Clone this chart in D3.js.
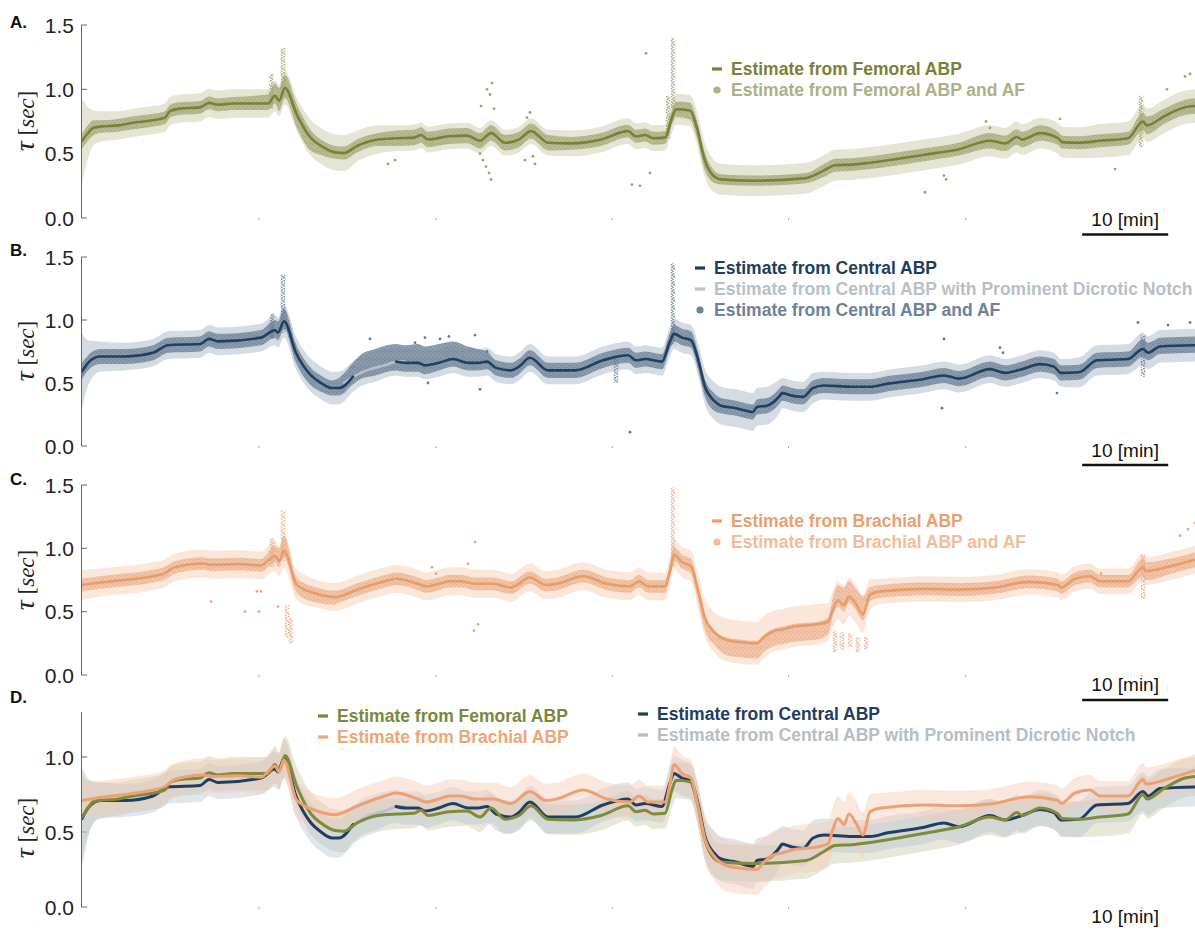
<!DOCTYPE html>
<html>
<head>
<meta charset="utf-8">
<script src="https://cdn.jsdelivr.net/npm/d3@7"></script>
<style>
  body { margin: 0; background: #fff; }
  svg { display: block; font-family: "Liberation Sans", Arial, sans-serif; }
</style>
</head>
<body>
<svg id="chart" width="1195" height="931"></svg>
<script>
// ---------------- data (time in minutes, tau in seconds) ----------------
const timeSpan = 129.42;
const xTicks = [20.5, 41.1, 61.6, 82.1, 102.7, 123.2];
const scaleBarStart = 116.3;          // the 10-minute bar
const yTicksABC = [0, 0.5, 1.0, 1.5];
const yTicksD = [0, 0.5, 1.0];

// Femoral ABP estimate
const femT = [0, 0.7, 1.28, 2.09, 4.19, 5.93, 8.26, 9.65, 10.23, 11.4,
  13.72, 14.77, 15.81, 17.56, 21.63, 22.44, 22.91, 23.6, 25.0, 26.63,
  27.79, 29.42, 30.47, 31.98, 34.42, 36.63, 38.6, 39.42, 40.23, 42.67,
  44.77, 46.28, 47.56, 49.19, 50.81, 52.21, 54.19, 56.98, 60.35, 63.49,
  64.42, 65.47, 66.4, 67.79, 68.6, 69.07, 70.7, 71.51, 72.33, 73.14,
  74.3, 78.02, 84.19, 86.28, 87.56, 89.53, 91.63, 97.79, 101.98, 105.58,
  107.33, 108.72, 109.3, 111.4, 113.49, 113.95, 115.93, 118.37, 121.63, 123.37,
  123.84, 125.81, 128.26, 129.42];
const femMean = [0.60, 0.66, 0.70, 0.71, 0.72, 0.74, 0.76, 0.78, 0.83, 0.85,
  0.86, 0.895, 0.88, 0.89, 0.89, 0.95, 0.91, 1.01, 0.80, 0.62,
  0.56, 0.51, 0.505, 0.56, 0.61, 0.62, 0.625, 0.645, 0.61, 0.635,
  0.64, 0.60, 0.66, 0.585, 0.61, 0.675, 0.585, 0.58, 0.61, 0.675,
  0.635, 0.645, 0.62, 0.625, 0.78, 0.845, 0.835, 0.70, 0.47, 0.35,
  0.30, 0.29, 0.31, 0.37, 0.41, 0.415, 0.43, 0.49, 0.535, 0.60,
  0.58, 0.63, 0.61, 0.66, 0.62, 0.59, 0.585, 0.60, 0.62, 0.75,
  0.72, 0.79, 0.86, 0.87];
const femCI = [0.33, 0.2, 0.14, 0.12, 0.11, 0.11, 0.11, 0.11, 0.11, 0.11,
  0.11, 0.11, 0.11, 0.11, 0.11, 0.12, 0.12, 0.13, 0.13, 0.14,
  0.14, 0.14, 0.14, 0.12, 0.11, 0.1, 0.1, 0.1, 0.1, 0.1,
  0.1, 0.1, 0.1, 0.1, 0.1, 0.1, 0.1, 0.1, 0.1, 0.1,
  0.1, 0.1, 0.1, 0.1, 0.12, 0.12, 0.12, 0.13, 0.13, 0.13,
  0.12, 0.12, 0.12, 0.12, 0.12, 0.12, 0.12, 0.12, 0.12, 0.12,
  0.12, 0.12, 0.12, 0.12, 0.12, 0.12, 0.12, 0.13, 0.13, 0.13,
  0.13, 0.13, 0.13, 0.13];
const femAfUp = [0.06, 0.06, 0.06, 0.05, 0.05, 0.05, 0.05, 0.05, 0.05, 0.05,
  0.05, 0.05, 0.05, 0.05, 0.07, 0.1, 0.1, 0.1, 0.08, 0.06,
  0.05, 0.05, 0.05, 0.05, 0.05, 0.06, 0.06, 0.06, 0.06, 0.06,
  0.06, 0.06, 0.06, 0.06, 0.06, 0.06, 0.06, 0.05, 0.05, 0.05,
  0.05, 0.05, 0.05, 0.05, 0.06, 0.06, 0.06, 0.06, 0.06, 0.05,
  0.04, 0.04, 0.04, 0.05, 0.05, 0.05, 0.05, 0.05, 0.05, 0.06,
  0.06, 0.06, 0.06, 0.06, 0.05, 0.05, 0.05, 0.05, 0.05, 0.07,
  0.07, 0.06, 0.06, 0.06];
const femAfDown = [0.06, 0.06, 0.06, 0.05, 0.05, 0.05, 0.05, 0.05, 0.05, 0.05,
  0.05, 0.05, 0.05, 0.05, 0.05, 0.06, 0.08, 0.08, 0.1, 0.1,
  0.07, 0.05, 0.05, 0.05, 0.05, 0.06, 0.06, 0.06, 0.06, 0.06,
  0.06, 0.06, 0.06, 0.06, 0.06, 0.06, 0.06, 0.05, 0.05, 0.05,
  0.05, 0.05, 0.05, 0.05, 0.06, 0.06, 0.07, 0.08, 0.08, 0.06,
  0.04, 0.04, 0.04, 0.05, 0.05, 0.05, 0.05, 0.05, 0.05, 0.06,
  0.06, 0.06, 0.06, 0.06, 0.05, 0.05, 0.05, 0.05, 0.05, 0.07,
  0.07, 0.06, 0.06, 0.06];
const femDots = [[47.09, 1.0], [47.44, 0.96], [47.67, 1.05], [46.4, 0.87], [47.91, 0.85],
  [46.98, 0.40], [47.33, 0.35], [46.63, 0.45], [47.56, 0.30], [46.28, 0.50],
  [52.09, 0.82], [51.74, 0.78], [52.44, 0.48], [51.51, 0.45], [52.67, 0.42],
  [65.58, 1.28], [64.88, 0.25], [63.95, 0.26], [66.05, 0.35], [36.4, 0.45], [35.58, 0.42],
  [113.72, 0.77], [120.12, 0.38], [105.12, 0.75], [105.58, 0.70], [126.16, 1.0],
  [128.26, 1.1], [128.84, 1.12], [98.02, 0.20], [100.47, 0.30], [100.23, 0.33]];
const femSpikes = [[21.98, 0.85, 1.12], [23.37, 0.95, 1.32], [68.72, 0.85, 1.40],
  [68.14, 0.62, 0.95], [123.14, 0.55, 0.95]];

// Central ABP estimate
const cenT = [0, 0.7, 2.09, 5.0, 8.26, 10.0, 13.72, 14.77, 15.81, 20.81,
  22.44, 22.79, 23.49, 24.88, 26.63, 27.79, 29.07, 29.88, 31.51, 32.33,
  34.07, 36.51, 37.56, 39.07, 39.88, 41.51, 43.14, 44.88, 46.05, 47.09,
  48.14, 49.88, 50.81, 52.09, 54.19, 57.33, 60.58, 63.49, 64.42, 65.47,
  67.44, 68.37, 68.84, 69.77, 70.81, 71.63, 72.44, 73.49, 74.3, 76.05,
  77.21, 78.02, 78.49, 79.65, 81.16, 81.4, 82.56, 83.84, 85.0, 86.28,
  89.53, 91.63, 93.72, 97.79, 100.23, 101.98, 105.58, 107.33, 109.3, 111.4,
  113.02, 113.84, 115.93, 118.02, 121.63, 123.37, 123.95, 125.35, 129.42];
const cenMean = [0.59, 0.66, 0.71, 0.71, 0.74, 0.80, 0.81, 0.85, 0.83, 0.86,
  0.92, 0.90, 0.99, 0.74, 0.56, 0.50, 0.46, 0.46, 0.55, 0.59,
  0.63, 0.67, 0.66, 0.66, 0.64, 0.66, 0.69, 0.66, 0.66, 0.67,
  0.62, 0.60, 0.63, 0.70, 0.60, 0.60, 0.68, 0.72, 0.68, 0.69,
  0.67, 0.83, 0.89, 0.86, 0.84, 0.69, 0.47, 0.36, 0.32, 0.30,
  0.28, 0.27, 0.31, 0.32, 0.40, 0.42, 0.40, 0.39, 0.46, 0.48,
  0.47, 0.47, 0.495, 0.53, 0.56, 0.535, 0.61, 0.58, 0.61, 0.65,
  0.63, 0.58, 0.585, 0.68, 0.69, 0.77, 0.74, 0.79, 0.80];
const cenCI = [0.3, 0.18, 0.12, 0.11, 0.11, 0.11, 0.11, 0.11, 0.11, 0.11,
  0.12, 0.12, 0.13, 0.13, 0.13, 0.13, 0.13, 0.13, 0.12, 0.12,
  0.12, 0.11, 0.11, 0.11, 0.11, 0.11, 0.11, 0.11, 0.11, 0.11,
  0.11, 0.11, 0.11, 0.11, 0.11, 0.11, 0.11, 0.11, 0.11, 0.11,
  0.11, 0.12, 0.12, 0.12, 0.12, 0.13, 0.14, 0.15, 0.15, 0.15,
  0.15, 0.15, 0.15, 0.15, 0.13, 0.12, 0.12, 0.12, 0.12, 0.11,
  0.11, 0.11, 0.11, 0.11, 0.11, 0.11, 0.11, 0.11, 0.11, 0.11,
  0.11, 0.11, 0.12, 0.12, 0.12, 0.13, 0.13, 0.13, 0.13];
const cenAfUp = [0.07, 0.06, 0.06, 0.06, 0.06, 0.06, 0.06, 0.06, 0.06, 0.06,
  0.08, 0.09, 0.1, 0.07, 0.06, 0.06, 0.06, 0.08, 0.11, 0.13,
  0.14, 0.14, 0.14, 0.15, 0.15, 0.15, 0.14, 0.13, 0.11, 0.08,
  0.06, 0.06, 0.06, 0.06, 0.06, 0.06, 0.06, 0.06, 0.06, 0.06,
  0.06, 0.07, 0.07, 0.07, 0.07, 0.06, 0.06, 0.06, 0.06, 0.06,
  0.06, 0.06, 0.06, 0.06, 0.06, 0.06, 0.06, 0.06, 0.06, 0.06,
  0.06, 0.06, 0.06, 0.06, 0.06, 0.06, 0.06, 0.06, 0.06, 0.06,
  0.06, 0.06, 0.06, 0.06, 0.06, 0.08, 0.08, 0.07, 0.07];
const cenAfDown = [0.06, 0.06, 0.06, 0.06, 0.06, 0.06, 0.06, 0.06, 0.06, 0.06,
  0.06, 0.06, 0.06, 0.08, 0.08, 0.07, 0.06, 0.06, 0.06, 0.06,
  0.07, 0.07, 0.07, 0.07, 0.07, 0.06, 0.06, 0.06, 0.06, 0.06,
  0.06, 0.06, 0.06, 0.06, 0.06, 0.06, 0.06, 0.06, 0.06, 0.06,
  0.06, 0.06, 0.06, 0.06, 0.06, 0.08, 0.08, 0.08, 0.06, 0.06,
  0.06, 0.06, 0.06, 0.06, 0.06, 0.06, 0.06, 0.06, 0.06, 0.06,
  0.06, 0.06, 0.06, 0.06, 0.06, 0.06, 0.06, 0.06, 0.06, 0.06,
  0.06, 0.06, 0.06, 0.06, 0.06, 0.06, 0.06, 0.06, 0.06];
const cenGap = [31.6, 36.4];   // span where only the notch-based estimate exists
const cenDots = [[33.49, 0.85], [38.72, 0.82], [39.88, 0.86], [41.63, 0.85], [42.67, 0.87],
  [45.7, 0.88], [47.09, 0.75], [46.28, 0.45], [40.23, 0.50], [63.72, 0.11],
  [100.23, 0.85], [100.0, 0.30], [122.79, 0.98], [126.28, 0.96], [128.84, 0.98],
  [106.74, 0.78], [107.09, 0.74], [113.37, 0.42]];
const cenSpikes = [[22.09, 0.85, 1.05], [23.37, 0.90, 1.36], [68.72, 0.80, 1.45],
  [123.37, 0.55, 0.88], [62.09, 0.50, 0.72]];

// Central ABP with prominent dicrotic notch
const notchT = [30.47, 31.86, 33.49, 35.23, 36.63, 37.56];
const notchMean = [0.50, 0.56, 0.61, 0.64, 0.67, 0.67];

// Brachial ABP estimate
const braT = [0, 2.09, 4.19, 8.26, 9.53, 10.81, 14.07, 15.0, 18.37, 20.81,
  22.44, 22.91, 23.49, 24.88, 25.7, 27.09, 29.42, 29.88, 31.86, 35.23,
  36.51, 39.07, 40.0, 41.51, 42.67, 44.07, 45.7, 47.79, 49.88, 52.09,
  53.95, 55.23, 58.26, 61.05, 63.72, 64.77, 65.81, 67.79, 68.37, 68.84,
  69.77, 70.81, 71.63, 72.44, 73.49, 74.77, 76.4, 78.49, 79.3, 80.58,
  81.4, 82.56, 83.84, 85.47, 86.74, 87.33, 87.91, 88.6, 89.19, 90.0,
  90.81, 91.63, 92.91, 97.79, 101.98, 106.05, 110.12, 113.49, 113.84, 115.47,
  117.21, 118.37, 121.63, 123.37, 123.72, 126.63, 129.42];
const braMean = [0.71, 0.73, 0.745, 0.78, 0.80, 0.85, 0.88, 0.87, 0.875, 0.865,
  0.94, 0.90, 0.98, 0.72, 0.68, 0.645, 0.615, 0.62, 0.67, 0.74,
  0.76, 0.72, 0.70, 0.72, 0.74, 0.74, 0.72, 0.72, 0.69, 0.77,
  0.71, 0.72, 0.78, 0.72, 0.70, 0.74, 0.70, 0.70, 0.82, 0.95,
  0.89, 0.86, 0.67, 0.45, 0.34, 0.28, 0.26, 0.25, 0.30, 0.35,
  0.36, 0.38, 0.39, 0.40, 0.42, 0.52, 0.59, 0.55, 0.62, 0.56,
  0.48, 0.635, 0.66, 0.68, 0.675, 0.69, 0.735, 0.71, 0.69, 0.76,
  0.78, 0.74, 0.74, 0.85, 0.82, 0.86, 0.91];
const braCI = [0.12, 0.11, 0.11, 0.11, 0.11, 0.11, 0.11, 0.11, 0.11, 0.11,
  0.12, 0.12, 0.13, 0.12, 0.12, 0.11, 0.11, 0.11, 0.11, 0.11,
  0.11, 0.11, 0.11, 0.11, 0.11, 0.11, 0.11, 0.11, 0.11, 0.11,
  0.11, 0.11, 0.11, 0.11, 0.11, 0.11, 0.11, 0.11, 0.12, 0.12,
  0.12, 0.12, 0.14, 0.15, 0.16, 0.17, 0.17, 0.17, 0.17, 0.16,
  0.16, 0.16, 0.16, 0.16, 0.15, 0.15, 0.15, 0.15, 0.15, 0.15,
  0.15, 0.12, 0.1, 0.1, 0.1, 0.1, 0.1, 0.1, 0.1, 0.1,
  0.1, 0.1, 0.1, 0.11, 0.11, 0.11, 0.11];
const braAfUp = [0.05, 0.05, 0.05, 0.05, 0.05, 0.05, 0.05, 0.05, 0.05, 0.05,
  0.08, 0.1, 0.12, 0.06, 0.05, 0.05, 0.05, 0.05, 0.05, 0.05,
  0.05, 0.05, 0.05, 0.05, 0.05, 0.05, 0.05, 0.05, 0.05, 0.05,
  0.05, 0.05, 0.05, 0.05, 0.05, 0.05, 0.05, 0.05, 0.06, 0.06,
  0.06, 0.06, 0.05, 0.03, 0.02, 0.02, 0.02, 0.02, 0.02, 0.02,
  0.02, 0.02, 0.02, 0.02, 0.03, 0.1, 0.12, 0.14, 0.12, 0.12,
  0.14, 0.06, 0.05, 0.05, 0.05, 0.05, 0.05, 0.05, 0.05, 0.05,
  0.05, 0.05, 0.05, 0.07, 0.07, 0.06, 0.06];
const braAfDown = [0.05, 0.05, 0.05, 0.05, 0.05, 0.05, 0.05, 0.05, 0.05, 0.05,
  0.05, 0.05, 0.05, 0.06, 0.07, 0.07, 0.06, 0.05, 0.05, 0.05,
  0.05, 0.05, 0.05, 0.05, 0.05, 0.05, 0.05, 0.05, 0.05, 0.05,
  0.05, 0.05, 0.05, 0.05, 0.05, 0.05, 0.05, 0.05, 0.05, 0.05,
  0.05, 0.06, 0.08, 0.1, 0.1, 0.12, 0.12, 0.12, 0.12, 0.12,
  0.12, 0.12, 0.12, 0.12, 0.1, 0.05, 0.05, 0.05, 0.05, 0.05,
  0.05, 0.05, 0.05, 0.05, 0.05, 0.05, 0.05, 0.05, 0.05, 0.05,
  0.05, 0.05, 0.05, 0.07, 0.07, 0.06, 0.06];
const braDots = [[15.0, 0.58], [18.95, 0.50], [20.35, 0.66], [20.81, 0.66], [20.58, 0.50],
  [22.79, 0.54], [45.7, 1.05], [44.88, 0.88], [46.05, 0.40], [45.58, 0.35],
  [40.7, 0.85], [41.16, 0.80], [118.49, 0.80], [128.6, 1.15], [129.42, 1.2], [127.67, 1.1]];
const braSpikes = [[22.09, 0.85, 1.08], [23.37, 0.90, 1.30], [23.84, 0.30, 0.55],
  [24.3, 0.25, 0.45], [68.72, 0.85, 1.48], [87.56, 0.18, 0.35], [88.37, 0.20, 0.34],
  [89.3, 0.22, 0.33], [90.23, 0.18, 0.30], [91.16, 0.20, 0.30], [123.37, 0.60, 0.95]];

// ---------------- styles ----------------
const femStyle = { key: "fem", line: "#7b8039", band: "#e4e5d4", cloud: "#b7b98f", dot: "#9fa271", text: "#7c7f3a", textAF: "#adaf86" };
const cenStyle = { key: "cen", line: "#21405f", band: "#d5dbe2", cloud: "#8496a9", dot: "#657b93", text: "#1f3d5c", textAF: "#6e8197", notch: "#b7bfc8" };
const braStyle = { key: "bra", line: "#e69d69", band: "#fbe6da", cloud: "#f3c7ab", dot: "#eaa985", text: "#e9a06f", textAF: "#f1bc9c" };

const svg = d3.select("#chart");
const x = d3.scaleLinear().domain([0, timeSpan]).range([82, 1195]);

const panels = [
  { id: "A", y0: 218, yTop: 25,  vmax: 1.5, ticks: yTicksABC, labelY: 28,  ylabelY: 121, barTextY: 226, barY: 234.5 },
  { id: "B", y0: 446, yTop: 257, vmax: 1.5, ticks: yTicksABC, labelY: 256, ylabelY: 351, barTextY: 457, barY: 465 },
  { id: "C", y0: 675, yTop: 485, vmax: 1.5, ticks: yTicksABC, labelY: 485, ylabelY: 580, barTextY: 691, barY: 700 },
  { id: "D", y0: 907, yTop: 712, vmax: 1.3, ticks: yTicksD,   labelY: 703, ylabelY: 828, barTextY: 923, barY: 934 }
];
panels.forEach(p => { p.y = d3.scaleLinear().domain([0, p.vmax]).range([p.y0, p.yTop]); });

const defs = svg.append("defs");
panels.forEach(p => {
  defs.append("clipPath").attr("id", "clip" + p.id)
    .append("rect").attr("x", 82).attr("y", p.yTop - 30)
    .attr("width", 1195 - 82).attr("height", p.y0 - p.yTop + 40);
});

// speckle textures used to render dense clouds / columns of beat-wise estimates
const speckle = [[0.8, 0.7], [3.6, 1.4], [6.1, 0.4], [2.2, 3.1], [5.0, 3.6],
  [0.6, 5.2], [3.4, 5.9], [6.4, 5.0], [1.7, 7.2], [4.8, 7.6], [7.3, 2.6], [7.0, 7.4]];
const columnSpeckle = [[0.9, 0.6], [3.1, 1.9], [1.6, 3.4], [3.6, 4.6], [0.7, 5.8], [2.5, 7.1]];
function makeSpeckles(st) {
  const pat = defs.append("pattern").attr("id", "speckle-" + st.key)
    .attr("patternUnits", "userSpaceOnUse").attr("width", 8).attr("height", 8);
  pat.append("rect").attr("width", 8).attr("height", 8).attr("fill", st.cloud);
  pat.selectAll("circle").data(speckle).join("circle")
    .attr("cx", d => d[0]).attr("cy", d => d[1]).attr("r", 0.95).attr("fill", st.dot);
  const col = defs.append("pattern").attr("id", "column-" + st.key)
    .attr("patternUnits", "userSpaceOnUse").attr("width", 4.5).attr("height", 8);
  col.selectAll("circle").data(columnSpeckle).join("circle")
    .attr("cx", d => d[0]).attr("cy", d => d[1]).attr("r", 0.9).attr("fill", st.dot);
}
[femStyle, cenStyle, braStyle].forEach(makeSpeckles);

// ---------------- drawing helpers ----------------
function drawBand(g, y, t, mean, down, up, fill, opacity) {
  const area = d3.area().curve(d3.curveMonotoneX)
    .x(i => x(t[i]))
    .y0(i => y(mean[i] - down[i]))
    .y1(i => y(mean[i] + up[i]));
  g.append("path").attr("d", area(d3.range(t.length)))
    .attr("fill", fill).attr("fill-opacity", opacity);
}
function drawLine(g, y, t, mean, color, width, defined) {
  const line = d3.line().curve(d3.curveMonotoneX).x(i => x(t[i])).y(i => y(mean[i]))
    .defined(defined || (() => true));
  g.append("path").attr("d", line(d3.range(t.length)))
    .attr("fill", "none").attr("stroke", color).attr("stroke-width", width)
    .attr("stroke-linejoin", "round").attr("stroke-linecap", "round");
}
function drawSpikes(g, y, spikes, st) {
  g.selectAll(null).data(spikes).join("rect")
    .attr("x", d => x(d[0]) - 2.2).attr("width", 4.5)
    .attr("y", d => y(d[2])).attr("height", d => y(d[1]) - y(d[2]))
    .attr("fill", `url(#column-${st.key})`);
}
function drawDots(g, y, dots, color) {
  g.selectAll(null).data(dots).join("circle")
    .attr("cx", d => x(d[0])).attr("cy", d => y(d[1])).attr("r", 1.4)
    .attr("fill", color);
}
function drawLegend(x0, yc, items) {
  const g = svg.append("g").attr("font-size", 17.5).attr("font-weight", "bold");
  items.forEach((it, k) => {
    const cy = yc + k * 21;
    if (it.kind === "dot") {
      g.append("circle").attr("cx", x0 + 5).attr("cy", cy).attr("r", 3.6).attr("fill", it.color);
    } else {
      g.append("rect").attr("x", x0).attr("y", cy - 1.6).attr("width", 10).attr("height", 3.2).attr("fill", it.color);
    }
    g.append("text").attr("x", x0 + 19).attr("y", cy).attr("dy", "0.36em")
      .attr("fill", it.color).text(it.text);
  });
}

// ---------------- axes, labels, scale bars ----------------
panels.forEach(p => {
  const g = svg.append("g");
  g.append("line").attr("x1", 81.5).attr("x2", 81.5)
    .attr("y1", p.yTop).attr("y2", p.y0).attr("stroke", "#666").attr("stroke-width", 1);
  g.selectAll(null).data(p.ticks).join("line")
    .attr("x1", 81.5).attr("x2", 87).attr("y1", d => p.y(d)).attr("y2", d => p.y(d))
    .attr("stroke", "#666").attr("stroke-width", 1);
  g.selectAll(null).data(p.ticks).join("text")
    .attr("x", 74).attr("y", d => p.y(d)).attr("dy", "0.36em")
    .attr("text-anchor", "end").attr("font-size", 21).attr("fill", "#222")
    .text(d3.format(".1f"));
  const xAxis = d3.axisBottom(x).tickValues(xTicks).tickSize(2).tickFormat("");
  const ax = g.append("g").attr("transform", `translate(0,${p.y0})`).call(xAxis);
  ax.select(".domain").remove();
  ax.selectAll("line").attr("stroke", "#aaa");
  g.append("text").attr("x", 10).attr("y", p.labelY)
    .attr("font-size", 17).attr("font-weight", "bold").attr("fill", "#111").text(p.id + ".");
  const yl = g.append("text")
    .attr("transform", `translate(34,${p.ylabelY}) rotate(-90)`)
    .attr("text-anchor", "middle").attr("font-size", 23)
    .attr("font-family", "'Liberation Serif', 'DejaVu Serif', serif").attr("fill", "#222");
  yl.append("tspan").attr("font-style", "italic").attr("font-size", 28).text("τ");
  yl.append("tspan").text(" [");
  yl.append("tspan").attr("font-style", "italic").text("sec");
  yl.append("tspan").text("]");
  g.append("text").attr("x", (x(scaleBarStart) + x(scaleBarStart + 10)) / 2).attr("y", p.barTextY)
    .attr("text-anchor", "middle").attr("font-size", 19).attr("fill", "#111").text("10 [min]");
  g.append("line").attr("x1", x(scaleBarStart)).attr("x2", x(scaleBarStart + 10))
    .attr("y1", p.barY).attr("y2", p.barY).attr("stroke", "#111").attr("stroke-width", 2.6);
});

// ---------------- panels A-C: single source with AF estimates ----------------
function singlePanel(p, t, mean, ci, afUp, afDown, dots, spikes, st) {
  const g = svg.append("g").attr("clip-path", `url(#clip${p.id})`);
  drawBand(g, p.y, t, mean, ci, ci, st.band, 1);
  drawBand(g, p.y, t, mean, afDown, afUp, `url(#speckle-${st.key})`, 0.85);
  drawSpikes(g, p.y, spikes, st);
  drawDots(g, p.y, dots, st.dot);
  return g;
}

const pA = panels[0], pB = panels[1], pC = panels[2], pD = panels[3];

const gA = singlePanel(pA, femT, femMean, femCI, femAfUp, femAfDown, femDots, femSpikes, femStyle);
drawLine(gA, pA.y, femT, femMean, femStyle.line, 2.6);

const gB = singlePanel(pB, cenT, cenMean, cenCI, cenAfUp, cenAfDown, cenDots, cenSpikes, cenStyle);
drawLine(gB, pB.y, notchT, notchMean, cenStyle.notch, 2.6);
drawLine(gB, pB.y, cenT, cenMean, cenStyle.line, 2.6, i => cenT[i] < cenGap[0] || cenT[i] > cenGap[1]);

const gC = singlePanel(pC, braT, braMean, braCI, braAfUp, braAfDown, braDots, braSpikes, braStyle);
drawLine(gC, pC.y, braT, braMean, braStyle.line, 2.6);

// ---------------- panel D: all sources together ----------------
const gD = svg.append("g").attr("clip-path", "url(#clipD)");
drawBand(gD, pD.y, femT, femMean, femCI, femCI, "#c9cca8", 0.45);
drawBand(gD, pD.y, cenT, cenMean, cenCI, cenCI, "#b3c1d1", 0.4);
drawBand(gD, pD.y, braT, braMean, braCI, braCI, "#f5cdb5", 0.45);
drawLine(gD, pD.y, notchT, notchMean, "#b9c2cc", 3);
drawLine(gD, pD.y, cenT, cenMean, "#1e3f63", 3, i => cenT[i] < cenGap[0] || cenT[i] > cenGap[1]);
drawLine(gD, pD.y, femT, femMean, "#7f8b3a", 3);
drawLine(gD, pD.y, braT, braMean, "#eda173", 3);

// ---------------- legends ----------------
drawLegend(712, 69, [
  { kind: "line", color: femStyle.text, text: "Estimate from Femoral ABP" },
  { kind: "dot", color: femStyle.textAF, text: "Estimate from Femoral ABP and AF" }
]);
drawLegend(695, 268, [
  { kind: "line", color: cenStyle.text, text: "Estimate from Central ABP" },
  { kind: "line", color: cenStyle.notch, text: "Estimate from Central ABP with Prominent Dicrotic Notch" },
  { kind: "dot", color: cenStyle.textAF, text: "Estimate from Central ABP and AF" }
]);
drawLegend(712, 521, [
  { kind: "line", color: braStyle.text, text: "Estimate from Brachial ABP" },
  { kind: "dot", color: braStyle.textAF, text: "Estimate from Brachial ABP and AF" }
]);
drawLegend(318, 716, [
  { kind: "line", color: "#7b873a", text: "Estimate from Femoral ABP" },
  { kind: "line", color: "#eea676", text: "Estimate from Brachial ABP" }
]);
drawLegend(638, 714, [
  { kind: "line", color: "#1f3d5c", text: "Estimate from Central ABP" },
  { kind: "line", color: "#b5bdc6", text: "Estimate from Central ABP with Prominent Dicrotic Notch" }
]);
</script>
</body>
</html>
